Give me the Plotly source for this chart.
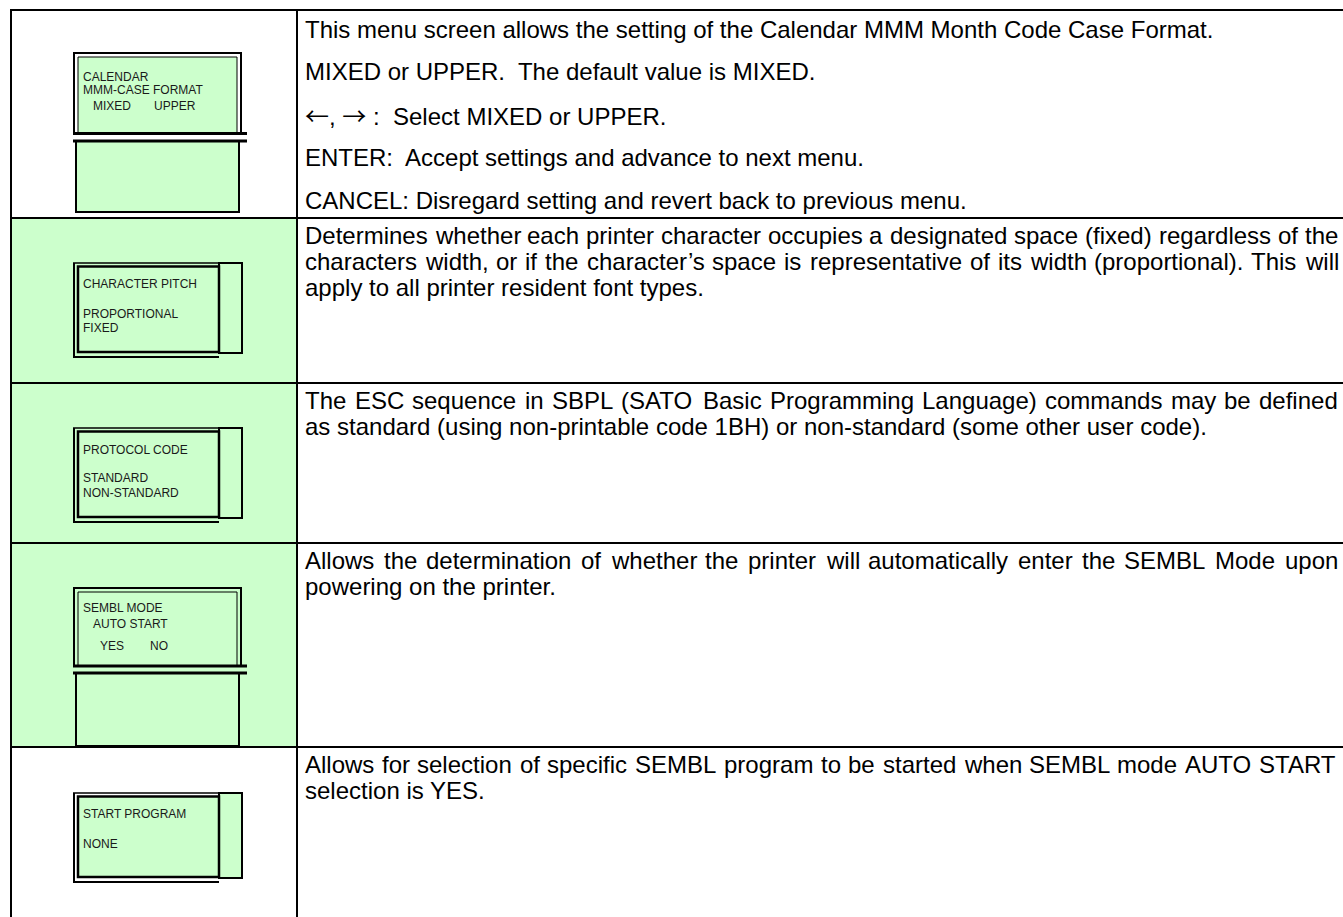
import plotly.graph_objects as go

# ---------------- data ----------------
GREEN = "#CCFFCC"
ROW_EDGES = [10, 218, 383, 543, 747, 917]
ROW_SHADED = [False, True, True, True, False]
TABLE_LEFT, COL_SPLIT, TABLE_RIGHT = 11, 297, 1343
TEXT_LEFT, TEXT_RIGHT = 305, 1338
BODY_SIZE = 24
BODY_FONT = "Liberation Sans, Arial, sans-serif"
ARROW_FONT = "Noto Sans CJK JP"

ROW1_LINES = [
    "This menu screen allows the setting of the Calendar MMM Month Code Case Format.",
    "MIXED or UPPER.\u00a0 The default value is MIXED.",
    "<span style='font-family:%s'>\u2190</span>, <span style='font-family:%s'>\u2192</span>"
    " :\u00a0 Select MIXED or UPPER." % (ARROW_FONT, ARROW_FONT),
    "ENTER:\u00a0 Accept settings and advance to next menu.",
    "CANCEL: Disregard setting and revert back to previous menu.",
]
ROW1_Y = [29, 71.75, 114.5, 157.25, 200]

ROW2_LINES = [
    "Determines whether each printer character occupies a designated space (fixed) regardless of the",
    "characters width, or if the character\u2019s space is representative of its width (proportional). This will",
    "apply to all printer resident font types.",
]
ROW3_LINES = [
    "The ESC sequence in SBPL (SATO Basic Programming Language) commands may be defined",
    "as standard (using non-printable code 1BH) or non-standard (some other user code).",
]
ROW4_LINES = [
    "Allows the determination of whether the printer will automatically enter the SEMBL Mode upon",
    "powering on the printer.",
]
ROW5_LINES = [
    "Allows for selection of specific SEMBL program to be started when SEMBL mode AUTO START",
    "selection is YES.",
]
DESC_ROWS = [ROW2_LINES, ROW3_LINES, ROW4_LINES, ROW5_LINES]
DESC_FIRST_Y = [235, 400, 560, 764]
DESC_SPACING = 26

# LCD texts: (text, x, y)
LCD_TEXT = [
    ("CALENDAR", 83, 77), ("MMM-CASE FORMAT", 83, 90), ("MIXED", 93, 106), ("UPPER", 154, 106),
    ("CHARACTER PITCH", 83, 284), ("PROPORTIONAL", 83, 314), ("FIXED", 83, 328),
    ("PROTOCOL CODE", 83, 450), ("STANDARD", 83, 478), ("NON-STANDARD", 83, 493),
    ("SEMBL MODE", 83, 608), ("AUTO START", 93, 624), ("YES", 100, 646), ("NO", 150, 646),
    ("START PROGRAM", 83, 814), ("NONE", 83, 844),
]
# screen + keypad style devices: (top, bar1, bar2, bottom)
PAD_DEVICES = [(53, 133.5, 141, 212), (588, 666, 673, 746)]
# screen + side-tab style devices: (top, bottom)
SIDE_DEVICES = [(263, 357), (428, 522), (793, 882)]

# Arial / Liberation Sans advance widths (1/1000 em)
ARIAL_W = {" ": 278, "(": 333, ")": 333, ",": 278, ".": 278, "-": 333, ":": 278,
           "\u2019": 222, "'": 191, "1": 556}
for ch, w in zip("ABCDEFGHIJKLMNOPQRSTUVWXYZ",
                 [667, 667, 722, 722, 667, 611, 778, 722, 278, 500, 667, 556, 833,
                  722, 778, 667, 778, 722, 667, 611, 722, 667, 944, 667, 667, 611]):
    ARIAL_W[ch] = w
for ch, w in zip("abcdefghijklmnopqrstuvwxyz",
                 [556, 556, 500, 556, 556, 278, 556, 556, 222, 222, 500, 222, 833,
                  556, 556, 556, 556, 333, 500, 278, 556, 500, 722, 500, 500, 500]):
    ARIAL_W[ch] = w


def text_width(s, size):
    return sum(ARIAL_W.get(c, 556) for c in s) * size / 1000.0


fig = go.Figure()
shapes = []
annotations = []


def line(x0, y0, x1, y1, w=2, color="black"):
    shapes.append(dict(type="line", xref="x", yref="y", x0=x0, y0=y0, x1=x1, y1=y1,
                       line=dict(color=color, width=w)))


def rect(x0, y0, x1, y1, fill=None, w=2, layer="above"):
    d = dict(type="rect", xref="x", yref="y", x0=x0, y0=y0, x1=x1, y1=y1, layer=layer,
             line=dict(color="black", width=w))
    if fill:
        d["fillcolor"] = fill
    if w == 0:
        d["line"] = dict(width=0)
    shapes.append(d)


def text(s, x, y, size=BODY_SIZE, color="black"):
    annotations.append(dict(text=s, x=x, y=y, xref="x", yref="y", xanchor="left",
                            yanchor="middle", showarrow=False, borderpad=0, borderwidth=0,
                            font=dict(family=BODY_FONT, size=size, color=color)))


# cell shading
for i, shaded in enumerate(ROW_SHADED):
    if shaded:
        rect(TABLE_LEFT, ROW_EDGES[i], COL_SPLIT, ROW_EDGES[i + 1], fill=GREEN, w=0, layer="below")

# table grid
line(TABLE_LEFT - 1, ROW_EDGES[0], TABLE_RIGHT, ROW_EDGES[0])
line(TABLE_LEFT, ROW_EDGES[0], TABLE_LEFT, ROW_EDGES[-1])
line(COL_SPLIT, ROW_EDGES[0], COL_SPLIT, ROW_EDGES[-1])
for yy in ROW_EDGES[1:-1]:
    line(TABLE_LEFT, yy, TABLE_RIGHT, yy)

# devices with keypad
for top, b1, b2, bot in PAD_DEVICES:
    rect(76, b2, 239, bot, fill=GREEN, w=2)
    rect(78, top + 4, 237, b1, fill=GREEN, w=1)
    line(74, top - 1, 74, b1, w=2)
    line(241, top - 1, 241, b1, w=2)
    line(73, top, 242, top, w=2)
    line(73, b1, 247, b1, w=3)
    line(73, b2, 247, b2, w=3)

# devices with side tab
for top, bot in SIDE_DEVICES:
    rect(219, top, 242, bot - 4, fill=GREEN, w=2)
    rect(78, top + 3.5, 219, bot - 5, fill=GREEN, w=2.5)
    line(74, top, 74, bot, w=2)
    line(73, top, 219, top, w=1.5)
    line(73, bot, 219, bot, w=2)

for s, x, y in LCD_TEXT:
    text(s, x, y, size=12, color="#1a1a1a")

# row 1 description
for s, y in zip(ROW1_LINES, ROW1_Y):
    text(s, TEXT_LEFT, y)

# justified description rows
for lines, y0 in zip(DESC_ROWS, DESC_FIRST_Y):
    for k, s in enumerate(lines):
        y = y0 + k * DESC_SPACING
        if k == len(lines) - 1:
            text(s, TEXT_LEFT, y)
            continue
        words = s.split(" ")
        widths = [text_width(wd, BODY_SIZE) for wd in words]
        gap = (TEXT_RIGHT - TEXT_LEFT - sum(widths)) / (len(words) - 1)
        x = TEXT_LEFT
        for wd, wdw in zip(words, widths):
            text(wd, x, y)
            x += wdw + gap

fig.update_layout(
    width=1343, height=917, margin=dict(l=0, r=0, t=0, b=0),
    paper_bgcolor="white", plot_bgcolor="white", showlegend=False,
    xaxis=dict(range=[0, 1343], visible=False, fixedrange=True),
    yaxis=dict(range=[917, 0], visible=False, fixedrange=True),
    shapes=shapes, annotations=annotations,
)
fig.write_html("out.html", config={"displayModeBar": False},
               post_script="document.body.style.margin='0px';")
